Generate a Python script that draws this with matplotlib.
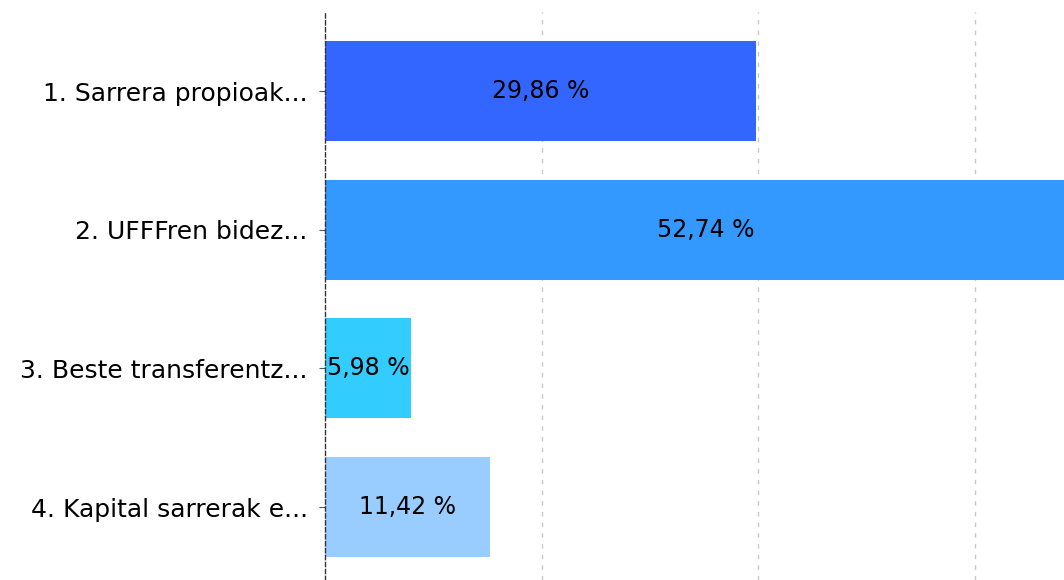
import matplotlib
matplotlib.use("Agg")
import matplotlib.pyplot as plt

plt.rcParams.update({"font.family": ["DejaVu Sans"]})

categories = [
    "1. Sarrera propioak...",
    "2. UFFFren bidez...",
    "3. Beste transferentz...",
    "4. Kapital sarrerak e...",
]
values = [29.86, 52.74, 5.98, 11.42]
value_labels = ["29,86 %", "52,74 %", "5,98 %", "11,42 %"]
colors = ["#3366FF", "#3399FF", "#33CCFF", "#99CCFF"]
grid_ticks = [15, 30, 45]

fig = plt.figure(figsize=(10.64, 5.8), dpi=100)
ax = fig.add_axes([325 / 1064, 0.0, 1 - 325 / 1064, 1 - 12 / 580])

pos = list(range(len(categories)))
ax.barh(pos, values, height=0.72, color=colors, zorder=2)

for p, v, lab in zip(pos, values, value_labels):
    ax.text(v / 2, p, lab, ha="center", va="center", fontsize=17, color="black", zorder=3)

ax.set_xlim(0, 51.18)
ax.set_ylim(3.526, -0.57)
ax.set_yticks(pos)
ax.set_yticklabels(categories, fontsize=18)
ax.tick_params(axis="y", length=4.5, width=0.8, pad=8, color="#555555")
ax.set_xticks(grid_ticks)
ax.tick_params(axis="x", length=0, labelbottom=False)
ax.grid(axis="x", linestyle=(0, (3.2, 4.5)), color="#c8c8c8", linewidth=1, zorder=0)

for s in ["top", "right", "bottom"]:
    ax.spines[s].set_visible(False)
ax.spines["left"].set_linestyle((0, (3, 2)))
ax.spines["left"].set_color("#333333")
ax.spines["left"].set_linewidth(1)

fig.savefig("out.png", dpi=100)
